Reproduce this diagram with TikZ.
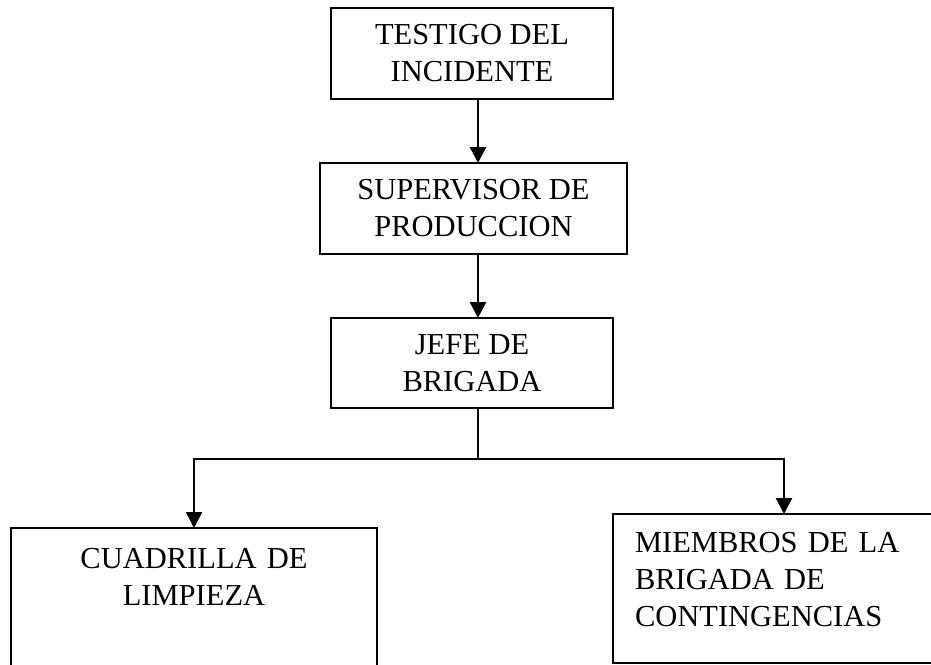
\documentclass[tikz,border=0pt]{standalone}
\usepackage{fontspec}
\setmainfont{Liberation Serif}
\usetikzlibrary{arrows.meta}
\begin{document}
\begin{tikzpicture}[x=1pt,y=-1pt,
        caja/.style={draw,line width=1.7pt,inner sep=0pt,outer sep=0pt,font=\fontsize{30.5}{37}\selectfont,align=center},
        flecha/.style={line width=2.4pt,-{Triangle[length=16pt,width=16pt]}}]
        \clip (0,0) rectangle (931,664);
        \node[caja,minimum width=282pt,minimum height=91pt] (testigo) at (472,53.5) {TESTIGO DEL\\INCIDENTE};
        \node[caja,minimum width=307pt,minimum height=91pt] (supervisor) at (473.5,208.5) {SUPERVISOR DE\\PRODUCCION};
        \node[caja,minimum width=282pt,minimum height=90pt] (jefe) at (472,363) {JEFE DE\\BRIGADA};
        \node[caja,anchor=north west,text width=366pt,text height=40pt,text depth=112pt] (cuadrilla) at (11,528) {CUADRILLA DE\\LIMPIEZA};
        \node[caja,anchor=north west,align=left,inner xsep=22pt,text width=298pt,text height=38.7pt,text depth=110.3pt] (miembros) at (613,514) {MIEMBROS DE LA\\BRIGADA DE\\CONTINGENCIAS};
        \coordinate (split) at (478,459);
        \draw[flecha] (testigo.south -| split) -- (supervisor.north -| split);
        \draw[flecha] (supervisor.south -| split) -- (jefe.north -| split);
        \draw[line width=1.3pt] (jefe.south -| split) -- (split);
        \draw[flecha] (split) -| (cuadrilla.north);
        \draw[flecha] (split) -| (miembros.north);
\end{tikzpicture}
\end{document}
